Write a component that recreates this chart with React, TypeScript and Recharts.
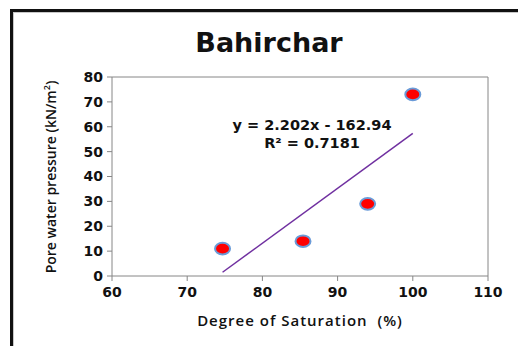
import { ScatterChart, Scatter, XAxis, YAxis, ReferenceLine } from "recharts";

if (typeof document !== "undefined") document.body.style.margin = "0";

const saturation = [74.7, 85.4, 94.0, 100.0];
const porePressure = [11, 14, 29, 73];
const trendX = [74.7, 100.0];
const trendY = [1.5, 57.3];
const xTicks = [60, 70, 80, 90, 100, 110];
const yTicks = [0, 10, 20, 30, 40, 50, 60, 70, 80];

const points = saturation.map((x, i) => ({ x, y: porePressure[i] }));
const trend = trendX.map((x, i) => ({ x, y: trendY[i] }));

const AXIS = "#868686";
const tickStyle = { fontFamily: "DejaVu Sans", fontWeight: 700, fontSize: 14, fill: "#111" };
const labelFont = "'Open Sans', sans-serif";

function Marker(props: any) {
  const { cx, cy } = props;
  if (cx == null || cy == null) return <g />;
  return <ellipse cx={cx} cy={cy} rx={7.5} ry={5.8} fill="#ff0000" stroke="#6a9bd8" strokeWidth={2} />;
}

export default function App() {
  return (
    <div style={{ position: "relative", width: 518, height: 346, overflow: "hidden", background: "#fff" }}>
      <div
        style={{
          position: "absolute",
          left: 10,
          top: 9,
          width: 600,
          height: 400,
          borderLeft: "3px solid #111",
          borderTop: "3px solid #111",
          boxShadow: "inset 1px 1px 0 #c8c8c8",
        }}
      />
      <ScatterChart width={518} height={346} margin={{ top: 77, right: 30, bottom: 40, left: 72 }}>
        <XAxis
          type="number"
          dataKey="x"
          domain={[60, 110]}
          ticks={xTicks}
          tick={tickStyle}
          tickSize={5}
          tickMargin={6}
          height={30}
          stroke={AXIS}
          axisLine={{ stroke: AXIS }}
          tickLine={{ stroke: AXIS }}
          allowDataOverflow
        />
        <YAxis
          type="number"
          dataKey="y"
          domain={[0, 80]}
          ticks={yTicks}
          tick={tickStyle}
          tickSize={5}
          tickMargin={4}
          width={40}
          stroke={AXIS}
          axisLine={{ stroke: AXIS }}
          tickLine={{ stroke: AXIS }}
          allowDataOverflow
        />
        <ReferenceLine y={80} stroke={AXIS} strokeWidth={1} />
        <ReferenceLine x={110} stroke={AXIS} strokeWidth={1} />
        <Scatter
          data={trend}
          line={{ stroke: "#7030a0", strokeWidth: 1.5 }}
          shape={() => <g />}
          isAnimationActive={false}
        />
        <Scatter data={points} shape={Marker} isAnimationActive={false} />
      </ScatterChart>
      <div
        style={{
          position: "absolute",
          left: 0,
          width: 538,
          top: 26,
          textAlign: "center",
          fontFamily: "DejaVu Sans",
          fontWeight: 700,
          fontSize: 27,
          lineHeight: "34px",
          color: "#111",
        }}
      >
        Bahirchar
      </div>
      <div
        style={{
          position: "absolute",
          left: 212,
          width: 200,
          top: 116,
          textAlign: "center",
          fontFamily: "DejaVu Sans",
          fontWeight: 700,
          fontSize: 14.5,
          lineHeight: "18px",
          color: "#111",
        }}
      >
        <div>y = 2.202x - 162.94</div>
        <div>R² = 0.7181</div>
      </div>
      <div
        style={{
          position: "absolute",
          left: 150,
          width: 300,
          top: 310,
          textAlign: "center",
          fontFamily: labelFont,
          fontWeight: 600,
          fontSize: 15,
          letterSpacing: 1,
          lineHeight: "20px",
          color: "#111",
          whiteSpace: "pre",
        }}
      >
        {"Degree of Saturation  (%)"}
      </div>
      <div
        style={{
          position: "absolute",
          left: 51 - 120,
          width: 240,
          top: 177 - 10,
          textAlign: "center",
          fontFamily: labelFont,
          fontWeight: 600,
          fontSize: 14,
          lineHeight: "20px",
          color: "#111",
          transform: "rotate(-90deg)",
          whiteSpace: "nowrap",
        }}
      >
        Pore water pressure (kN/m<sup style={{ fontSize: 9, lineHeight: 0 }}>2</sup>)
      </div>
    </div>
  );
}
